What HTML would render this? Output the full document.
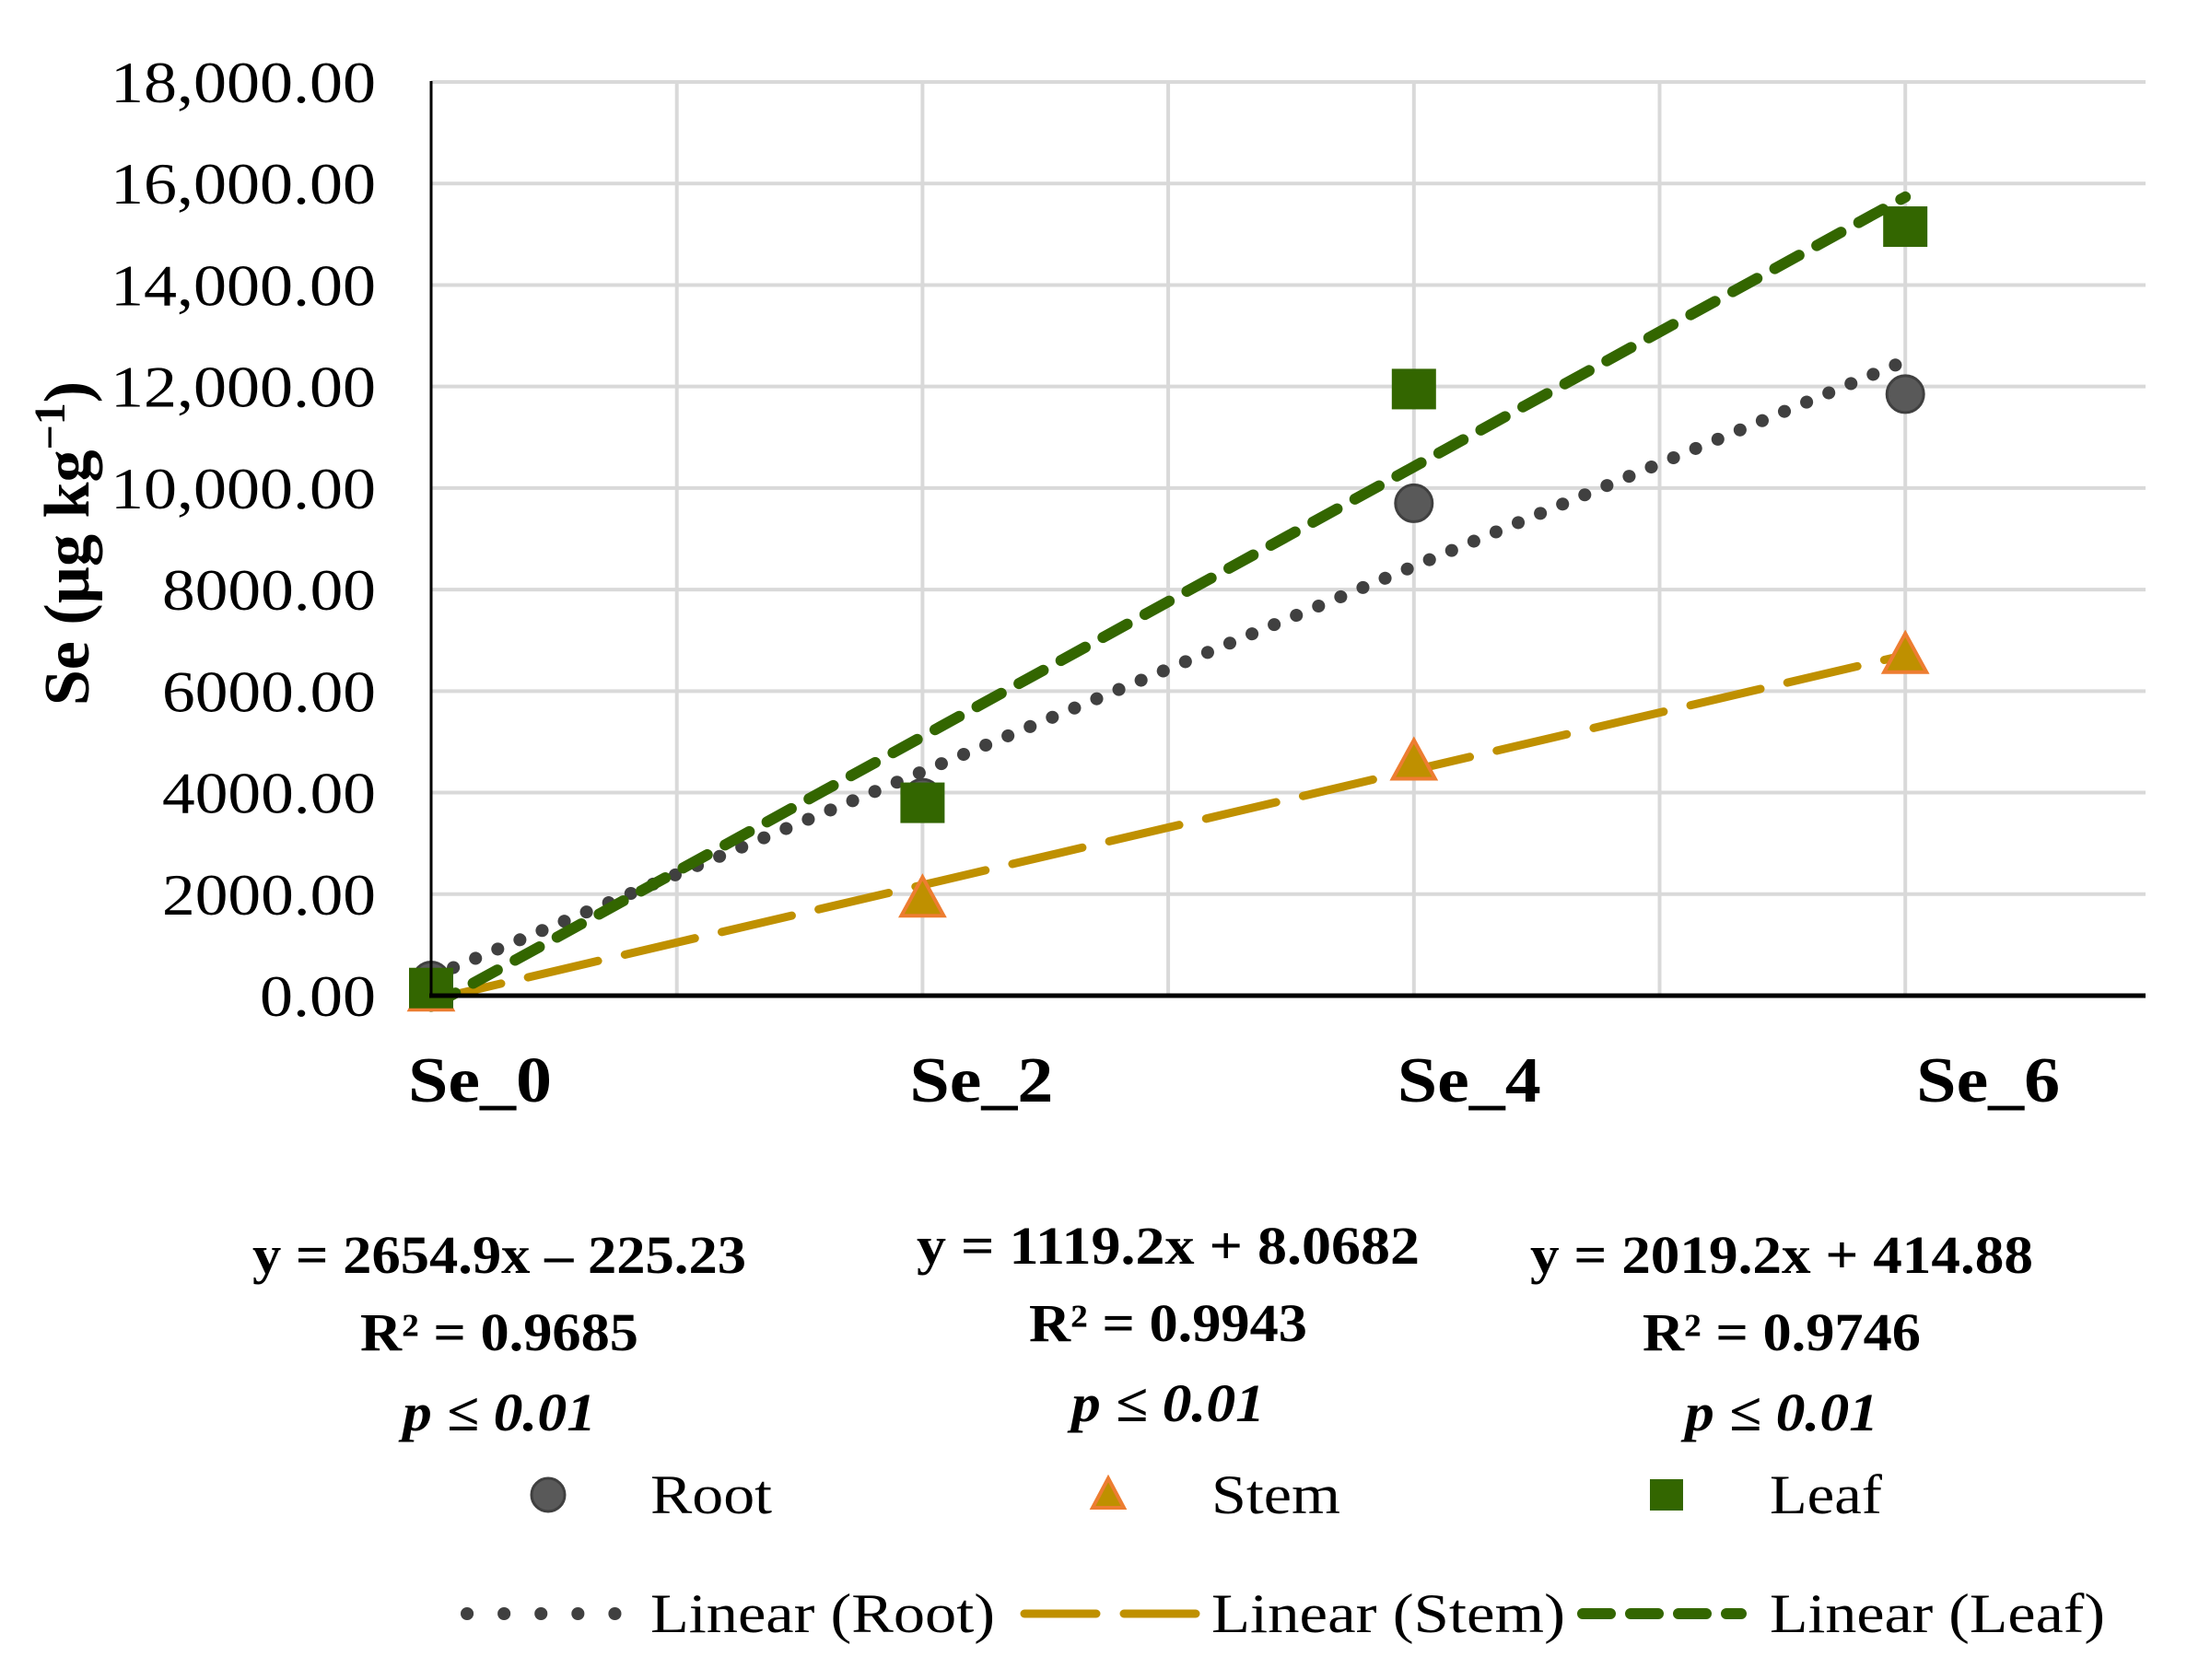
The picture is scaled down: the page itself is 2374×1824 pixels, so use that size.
<!DOCTYPE html>
<html><head><meta charset="utf-8"><style>
html,body{margin:0;padding:0;background:#fff;}
svg{display:block;}
text{font-family:"Liberation Serif",serif;fill:#000;}
</style></head>
<body>
<svg id="chart" width="2374" height="1824" viewBox="0 0 2374 1824" xmlns="http://www.w3.org/2000/svg">
<g id="grid"></g>
<g id="yticks"></g>
<g id="xticks"></g>
<g id="trends"></g>
<g id="marks"></g>
<line x1="468" y1="88" x2="468" y2="1081" stroke="#000" stroke-width="3"/>
<line x1="466" y1="1081" x2="2329" y2="1081" stroke="#000" stroke-width="5"/>
<text transform="translate(96,590) rotate(-90)" text-anchor="middle" font-weight="bold" font-size="70">Se (µg kg<tspan font-size="48" dy="-26">−1</tspan><tspan dy="26">)</tspan></text>

<g font-weight="bold" font-size="58" text-anchor="middle">
<text x="542" y="1382" textLength="536" lengthAdjust="spacingAndGlyphs">y = 2654.9x – 225.23</text>
<text x="542" y="1466" textLength="302" lengthAdjust="spacingAndGlyphs">R² = 0.9685</text>
<text x="542" y="1553" font-style="italic" textLength="210" lengthAdjust="spacingAndGlyphs">p ≤ 0.01</text>
</g>
<g font-weight="bold" font-size="58" text-anchor="middle">
<text x="1268" y="1372" textLength="546" lengthAdjust="spacingAndGlyphs">y = 1119.2x + 8.0682</text>
<text x="1268" y="1456" textLength="302" lengthAdjust="spacingAndGlyphs">R² = 0.9943</text>
<text x="1268" y="1543" font-style="italic" textLength="210" lengthAdjust="spacingAndGlyphs">p ≤ 0.01</text>
</g>
<g font-weight="bold" font-size="58" text-anchor="middle">
<text x="1934" y="1382" textLength="546" lengthAdjust="spacingAndGlyphs">y = 2019.2x + 414.88</text>
<text x="1934" y="1466" textLength="302" lengthAdjust="spacingAndGlyphs">R² = 0.9746</text>
<text x="1934" y="1553" font-style="italic" textLength="210" lengthAdjust="spacingAndGlyphs">p ≤ 0.01</text>
</g>

<g font-size="60">
<g>
<circle cx="595" cy="1623" r="18" fill="#595959" stroke="#404040" stroke-width="3"/>
<text x="706" y="1643" textLength="132" lengthAdjust="spacingAndGlyphs">Root</text></g>
<g>
<polygon points="1203,1605 1220,1637 1186,1637" fill="#bf9000" stroke="#ed7d31" stroke-width="4"/>
<text x="1315" y="1643" textLength="140" lengthAdjust="spacingAndGlyphs">Stem</text></g>
<g>
<rect x="1791" y="1606" width="36" height="34" fill="#336600"/>
<text x="1921" y="1643" textLength="122" lengthAdjust="spacingAndGlyphs">Leaf</text></g>
<g>
<line x1="507" y1="1752" x2="672" y2="1752" stroke="#404040" stroke-width="14" stroke-linecap="round" stroke-dasharray="0.1 40"/>
<text x="706" y="1772" textLength="374" lengthAdjust="spacingAndGlyphs">Linear (Root)</text></g>
<g>
<line x1="1112" y1="1752" x2="1298" y2="1752" stroke="#bf9000" stroke-width="9" stroke-linecap="round" stroke-dasharray="78 30"/>
<text x="1315" y="1772" textLength="384" lengthAdjust="spacingAndGlyphs">Linear (Stem)</text></g>
<g>
<line x1="1718" y1="1752" x2="1890" y2="1752" stroke="#336600" stroke-width="12" stroke-linecap="round" stroke-dasharray="30 22"/>
<text x="1921" y="1772" textLength="364" lengthAdjust="spacingAndGlyphs">Linear (Leaf)</text></g>
</g>
</svg>
<script>
const categories = ["Se_0","Se_2","Se_4","Se_6"];
const xValues = [0,2,4,6];
const rootValues = [300,3900,9700,11850];
const stemValues = [50,1900,4600,6700];
const leafValues = [150,3800,11950,15150];
const yTickValues = [0,2000,4000,6000,8000,10000,12000,14000,16000,18000];
const yTickLabels = ["0.00","2000.00","4000.00","6000.00","8000.00","10,000.00","12,000.00","14,000.00","16,000.00","18,000.00"];

const NS="http://www.w3.org/2000/svg";
const X0=468, XSTEP=266.7, Y0=1081, YTOP=89, YMAX=18000;
function xs(v){return X0+v*XSTEP;}
function ys(v){return Y0-(v/YMAX)*(Y0-YTOP);}
function mk(tag,attrs,parent){const e=document.createElementNS(NS,tag);for(const k in attrs)e.setAttribute(k,attrs[k]);parent.appendChild(e);return e;}

const grid=document.getElementById('grid');
yTickValues.forEach((v,i)=>{
  if(v===0)return;
  const l=mk('line',{x1:X0,x2:2329,y1:ys(v),y2:ys(v),stroke:'#d9d9d9','stroke-width':4},grid);
  
  
});
for(let k=1;k<=6;k++){
  const l=mk('line',{x1:xs(k),x2:xs(k),y1:YTOP,y2:Y0,stroke:'#d9d9d9','stroke-width':4},grid);
  
  
}
const yt=document.getElementById('yticks');
yTickValues.forEach((v,i)=>{
  const t=mk('text',{x:408,y:ys(v)+22,'text-anchor':'end','font-size':64,textLength:yTickLabels[i].length>7?288:(yTickLabels[i].length>4?232:126),lengthAdjust:'spacingAndGlyphs'},yt);
  t.textContent=yTickLabels[i];
  
  
});
const xt=document.getElementById('xticks');
const xLabelOffset=[53,64,60,90];
categories.forEach((c,i)=>{
  const t=mk('text',{x:xs(xValues[i])+xLabelOffset[i],y:1196,'text-anchor':'middle','font-size':70,'font-weight':'bold',textLength:156,lengthAdjust:'spacingAndGlyphs'},xt);
  t.textContent=c;
  
  
});

function fit(ys_){const n=xValues.length;const mx=xValues.reduce((a,b)=>a+b)/n;const my=ys_.reduce((a,b)=>a+b)/n;
  let sxy=0,sxx=0;for(let i=0;i<n;i++){sxy+=(xValues[i]-mx)*(ys_[i]-my);sxx+=(xValues[i]-mx)**2;}
  const m=sxy/sxx;return [m,my-m*mx];}
const tr=document.getElementById('trends');
function trend(vals,style,name){
  const [m,b]=fit(vals);const x1=xValues[0],x2=xValues[xValues.length-1];
  const l=mk('line',Object.assign({x1:xs(x1),y1:ys(m*x1+b),x2:xs(x2),y2:ys(m*x2+b),fill:'none','stroke-linecap':'round'},style),tr);
  
  
}
trend(stemValues,{stroke:'#bf9000','stroke-width':9,'stroke-dasharray':'78 30'},'trendline-stem');
trend(rootValues,{stroke:'#404040','stroke-width':14,'stroke-dasharray':'0.1 26'},'trendline-root');
trend(leafValues,{stroke:'#336600','stroke-width':12,'stroke-dasharray':'30 22'},'trendline-leaf');

const mg=document.getElementById('marks');
xValues.forEach((x,i)=>{
  const cx=xs(x);
  const c=mk('circle',{cx:cx,cy:ys(rootValues[i]),r:20,fill:'#595959',stroke:'#404040','stroke-width':3},mg);
  
  
  const ty=ys(stemValues[i]);
  const p=mk('polygon',{points:`${cx},${ty-24} ${cx+23},${ty+18} ${cx-23},${ty+18}`,fill:'#bf9000',stroke:'#ed7d31','stroke-width':4},mg);
  
  
  const sy=ys(leafValues[i]);
  const r=mk('rect',{x:cx-24,y:sy-22,width:48,height:44,fill:'#336600'},mg);
  
  
});
</script>
</body></html>
